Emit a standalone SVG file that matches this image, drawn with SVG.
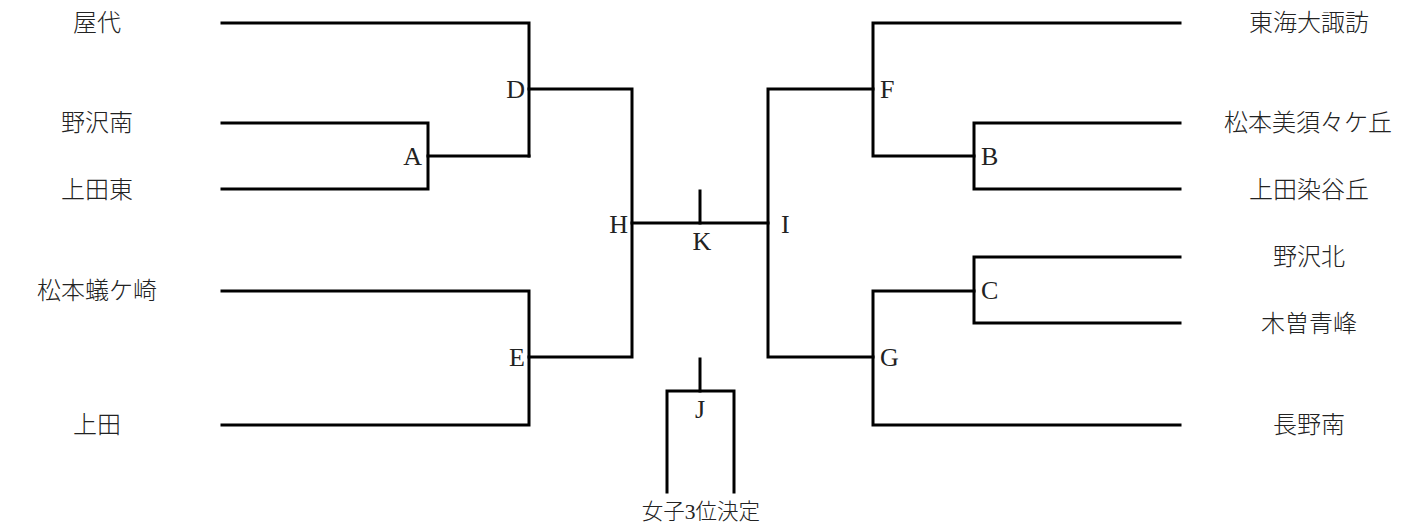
<svg xmlns="http://www.w3.org/2000/svg" width="1415" height="527" viewBox="0 0 1415 527">
<style>
.ln{fill:none;stroke:#000;stroke-width:3;stroke-linejoin:miter;stroke-linecap:square}
.nm{font-family:"Liberation Serif","Noto Sans CJK JP",serif;font-size:24px;font-weight:300;fill:#222;text-anchor:middle;dominant-baseline:central}
.lt{font-family:"Liberation Serif",serif;font-size:26px;fill:#222}
.ft{font-family:"Liberation Serif","Noto Sans CJK JP",serif;font-size:21.5px;font-weight:300;fill:#222;text-anchor:middle;dominant-baseline:central}
</style>
<rect width="1415" height="527" fill="#fff"/>
<g id="connectors">
<polyline class="ln" points="222,23 529,23 529,156"/>
<polyline class="ln" points="222,123 428,123 428,189 222,189"/>
<line class="ln" x1="428" y1="156" x2="529" y2="156"/>
<polyline class="ln" points="529,89 632,89 632,357 529,357"/>
<polyline class="ln" points="222,291 529,291 529,425 222,425"/>
<line class="ln" x1="632" y1="223" x2="768" y2="223"/>
<line class="ln" x1="700" y1="191" x2="700" y2="223"/>
<polyline class="ln" points="873,89 768,89 768,357 873,357"/>
<polyline class="ln" points="1180,23 873,23 873,156 974,156"/>
<polyline class="ln" points="1180,123 974,123 974,189 1180,189"/>
<polyline class="ln" points="974,291 873,291 873,425 1180,425"/>
<polyline class="ln" points="1180,257 974,257 974,323 1180,323"/>
<line class="ln" x1="700" y1="359" x2="700" y2="391"/>
<polyline class="ln" points="667,492 667,391 734,391 734,492"/>
</g>
<g id="team-yashiro"><text class="nm" x="97" y="23">屋代</text></g>
<g id="team-nozawaminami"><text class="nm" x="97" y="123">野沢南</text></g>
<g id="team-uedahigashi"><text class="nm" x="97" y="190">上田東</text></g>
<g id="team-matsumotoarigasaki"><text class="nm" x="97" y="291">松本蟻ケ崎</text></g>
<g id="team-ueda"><text class="nm" x="97" y="425">上田</text></g>
<g id="team-tokaidaisuwa"><text class="nm" x="1309" y="23">東海大諏訪</text></g>
<g id="team-misuzugaoka"><text class="nm" x="1308" y="123">松本美須々ケ丘</text></g>
<g id="team-someyagaoka"><text class="nm" x="1309" y="190">上田染谷丘</text></g>
<g id="team-nozawakita"><text class="nm" x="1309" y="257">野沢北</text></g>
<g id="team-kisoseiho"><text class="nm" x="1309" y="324">木曽青峰</text></g>
<g id="team-naganominami"><text class="nm" x="1309" y="425">長野南</text></g>
<g id="match-A"><text class="lt" x="422" y="165" text-anchor="end">A</text></g>
<g id="match-D"><text class="lt" x="525" y="98" text-anchor="end">D</text></g>
<g id="match-E"><text class="lt" x="525" y="366" text-anchor="end">E</text></g>
<g id="match-H"><text class="lt" x="628" y="233" text-anchor="end">H</text></g>
<g id="match-K"><text class="lt" x="702" y="250" text-anchor="middle">K</text></g>
<g id="match-I"><text class="lt" x="781" y="233">I</text></g>
<g id="match-F"><text class="lt" x="880" y="98">F</text></g>
<g id="match-B"><text class="lt" x="981" y="165">B</text></g>
<g id="match-C"><text class="lt" x="981" y="299">C</text></g>
<g id="match-G"><text class="lt" x="880" y="366">G</text></g>
<g id="match-J"><text class="lt" x="700" y="418" text-anchor="middle">J</text></g>
<g id="label-3rd"><text class="ft" x="701" y="512">女子3位決定</text></g>
</svg>
